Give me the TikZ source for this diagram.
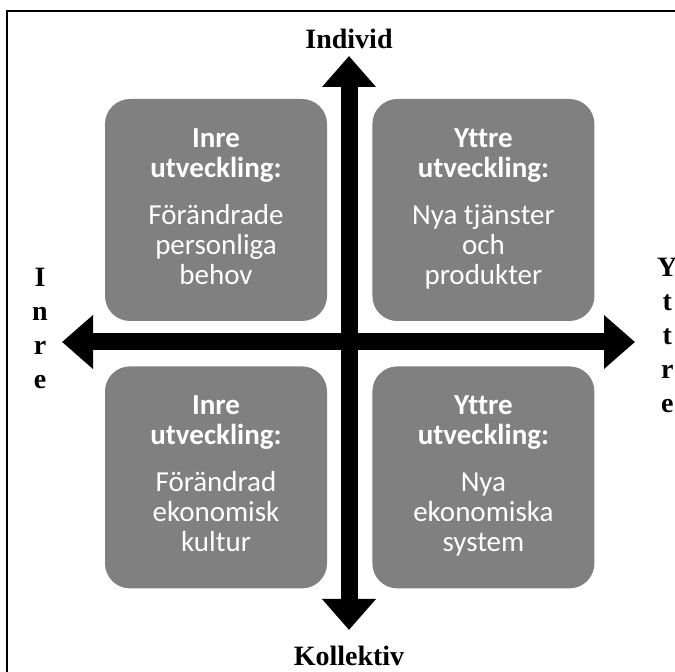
\documentclass[tikz,border=0pt]{standalone}
\usepackage{fontspec}
\setmainfont{Liberation Serif}
\newfontfamily\calibrifont[Ligatures=NoCommon]{Carlito}
\usetikzlibrary{arrows.meta, positioning}
\definecolor{boxgray}{RGB}{128,128,128}

\begin{document}
\begin{tikzpicture}[x=1pt, y=1pt]
        \tikzstyle{quadrant} = [rectangle, rounded corners=25pt, fill=boxgray, text=white, align=center, minimum height=222pt, minimum width=222pt, font=\calibrifont\fontsize{29}{30}\selectfont]
        \tikzstyle{axis} = [line width=17pt, <->, >={Triangle[length=31pt, width=52pt]}]
        \tikzstyle{axislabel} = [inner sep=0pt, align=center, font=\fontsize{28}{33.8}\selectfont\bfseries]

        \useasboundingbox (0,0) rectangle (675,672);
        \draw [line width=1.5pt] (7,661) rectangle (720,-40);

        \node (inreIndivid) [quadrant] at (216,462) {\strut\textbf{Inre}\\\textbf{utveckling:}\\[17pt]Förändrade\\personliga\\behov\strut};
        \node (yttreIndivid) [quadrant, right=45pt of inreIndivid] {\strut\textbf{Yttre}\\\textbf{utveckling:}\\[17pt]Nya tjänster\\och\\produkter\strut};
        \node (inreKollektiv) [quadrant, below=45pt of inreIndivid] {\strut\textbf{Inre}\\\textbf{utveckling:}\\[17pt]Förändrad\\ekonomisk\\kultur\strut};
        \node (yttreKollektiv) [quadrant, below=45pt of yttreIndivid] {\strut\textbf{Yttre}\\\textbf{utveckling:}\\[17pt]Nya\\ekonomiska\\system\strut};

        \coordinate (inreTip) at (62,330);
        \coordinate (yttreTip) at (635,330);
        \coordinate (individTip) at (349,616);
        \coordinate (kollektivTip) at (349,42);

        \node (individ) [axislabel, above=7pt of individTip] {Individ};
        \node (kollektiv) [axislabel, below=16pt of kollektivTip] {Kollektiv};
        \node (inre) [axislabel, left=14pt of inreTip, yshift=13.4pt] {I\\n\\r\\e};
        \node (yttre) [axislabel, right=22pt of yttreTip, yshift=6.6pt] {Y\\t\\t\\r\\e};

        \draw [axis] (inreTip) -- (yttreTip);
        \draw [axis] (individTip) -- (kollektivTip);
    \end{tikzpicture}
\end{document}
